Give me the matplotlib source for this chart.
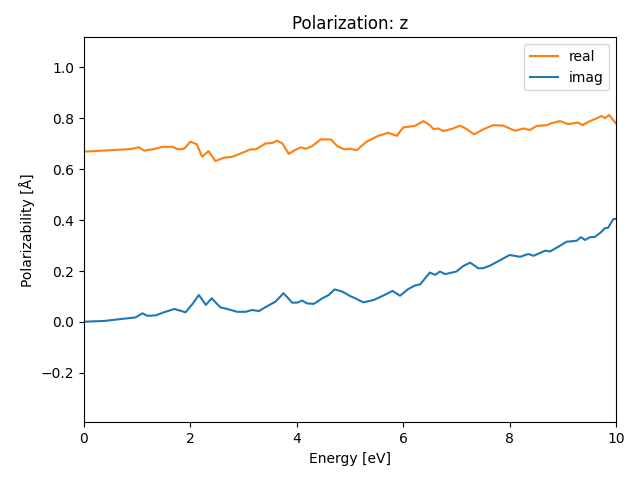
import matplotlib
matplotlib.use("Agg")
import matplotlib.pyplot as plt

real_x = [0.0, 0.88, 1.03, 1.13, 1.32, 1.47, 1.66, 1.77, 1.88, 2.0, 2.12, 2.22, 2.34, 2.47, 2.63,
          2.79, 2.95, 3.13, 3.23, 3.41, 3.54, 3.63, 3.73, 3.85, 3.95, 4.07, 4.17, 4.29, 4.45, 4.64,
          4.76, 4.89, 5.0, 5.13, 5.31, 5.53, 5.72, 5.88, 6.0, 6.22, 6.38, 6.5, 6.57, 6.66, 6.75,
          6.91, 7.07, 7.19, 7.33, 7.51, 7.69, 7.88, 8.1, 8.26, 8.38, 8.51, 8.7, 8.79, 8.95, 9.1,
          9.29, 9.37, 9.48, 9.64, 9.73, 9.79, 9.87, 10.0]
real_y = [0.669, 0.679, 0.686, 0.673, 0.679, 0.688, 0.688, 0.678, 0.68, 0.708, 0.698, 0.649, 0.671,
          0.632, 0.645, 0.649, 0.662, 0.678, 0.678, 0.701, 0.703, 0.712, 0.701, 0.66, 0.673, 0.686,
          0.68, 0.691, 0.717, 0.717, 0.691, 0.678, 0.68, 0.675, 0.708, 0.731, 0.743, 0.731, 0.764,
          0.77, 0.789, 0.773, 0.757, 0.76, 0.75, 0.758, 0.771, 0.758, 0.737, 0.757, 0.773, 0.771,
          0.751, 0.76, 0.754, 0.77, 0.773, 0.781, 0.789, 0.777, 0.783, 0.773, 0.786, 0.8, 0.809,
          0.8, 0.813, 0.78]

imag_x = [0.0, 0.38, 0.63, 0.97, 1.1, 1.19, 1.35, 1.5, 1.7, 1.91, 2.04, 2.16, 2.29, 2.4, 2.56,
          2.69, 2.88, 3.04, 3.16, 3.29, 3.41, 3.6, 3.75, 3.84, 3.91, 4.01, 4.1, 4.19, 4.32, 4.48,
          4.6, 4.71, 4.86, 5.0, 5.09, 5.25, 5.44, 5.62, 5.8, 5.94, 6.1, 6.22, 6.32, 6.41, 6.5,
          6.6, 6.69, 6.79, 7.0, 7.13, 7.26, 7.41, 7.5, 7.63, 7.79, 8.0, 8.2, 8.35, 8.45, 8.67,
          8.76, 8.92, 9.07, 9.26, 9.34, 9.42, 9.51, 9.6, 9.71, 9.79, 9.85, 9.95, 10.0]
imag_y = [0.001, 0.004, 0.01, 0.018, 0.034, 0.024, 0.026, 0.038, 0.051, 0.038, 0.071, 0.106, 0.067,
          0.093, 0.058, 0.051, 0.04, 0.04, 0.047, 0.043, 0.058, 0.08, 0.113, 0.093, 0.076, 0.076,
          0.084, 0.073, 0.071, 0.093, 0.106, 0.128, 0.119, 0.102, 0.094, 0.077, 0.086, 0.103, 0.122,
          0.103, 0.13, 0.143, 0.148, 0.171, 0.194, 0.185, 0.198, 0.188, 0.198, 0.22, 0.233, 0.211,
          0.211, 0.221, 0.239, 0.263, 0.256, 0.267, 0.26, 0.28, 0.277, 0.296, 0.315, 0.319, 0.333,
          0.322, 0.333, 0.334, 0.351, 0.368, 0.37, 0.404, 0.405]

fig, ax = plt.subplots(figsize=(6.4, 4.8), dpi=100)
ax.plot(real_x, real_y, color="C1", label="real")
ax.plot(imag_x, imag_y, color="C0", label="imag")
ax.set_xlim(0, 10)
ax.set_ylim(-0.394, 1.118)
ax.set_xlabel("Energy [eV]")
ax.set_ylabel("Polarizability [Å]")
ax.set_title("Polarization: z")
ax.legend(loc="upper right")
fig.subplots_adjust(left=84 / 640, right=616 / 640, top=1 - 37.3 / 480, bottom=1 - 422.3 / 480)
fig.savefig("out.png")
